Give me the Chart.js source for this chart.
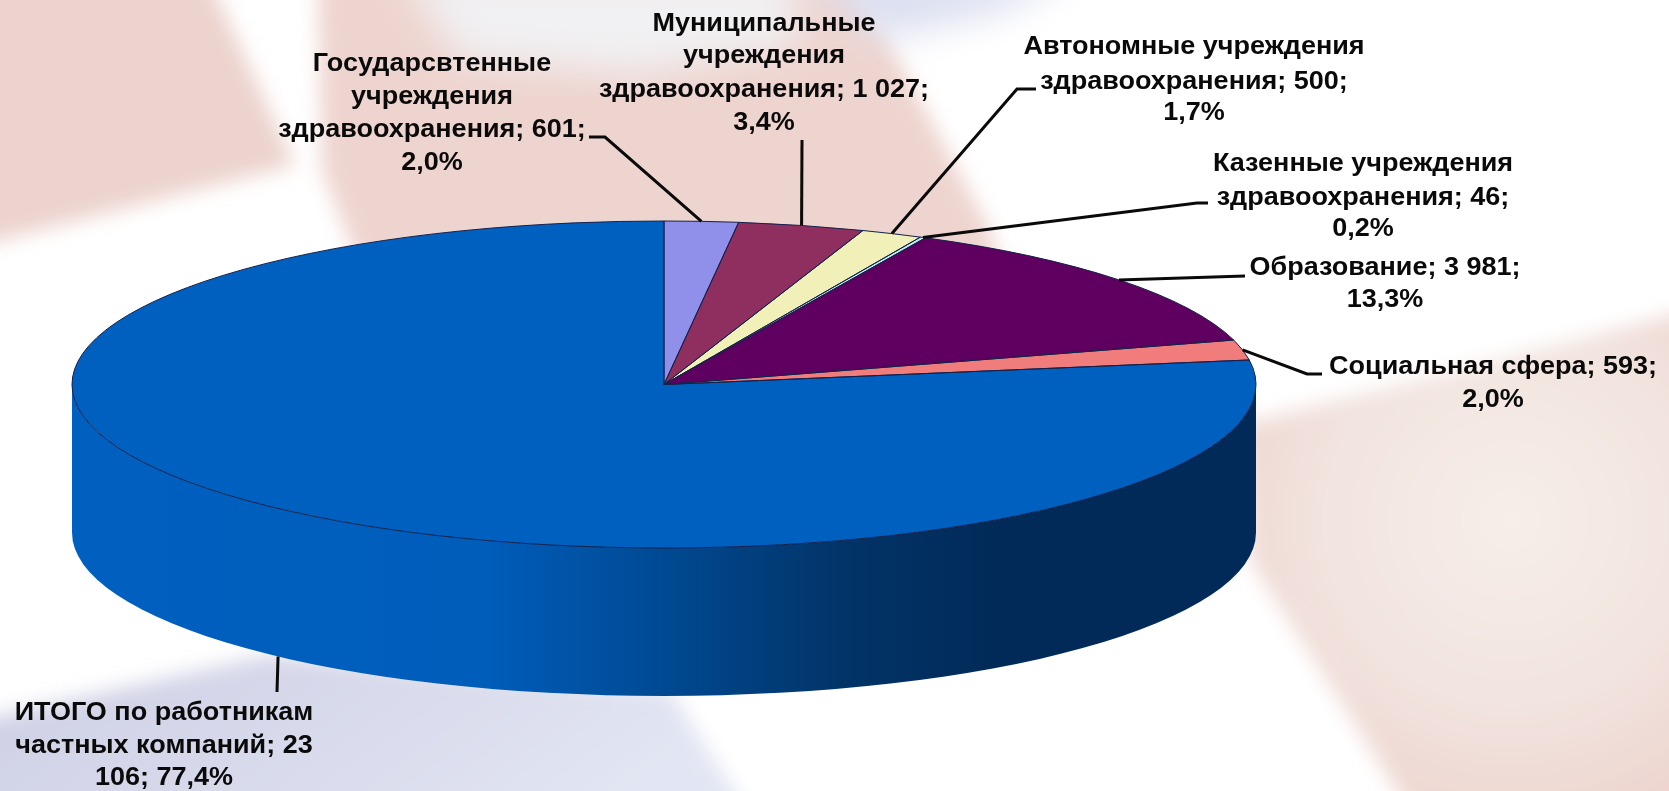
<!DOCTYPE html>
<html lang="ru">
<head>
    <meta charset="UTF-8">
    <title>Работники частных компаний</title>
    <script src="https://cdn.jsdelivr.net/npm/chart.js"></script>
    <style>
        html, body { margin: 0; padding: 0; background: #fff; overflow: hidden; }
        #wrap { position: relative; width: 1669px; height: 791px; }
        #bg, #pieChart { position: absolute; left: 0; top: 0; }
        /* исходник - растянутая картинка, края слегка мягкие */
        #pieChart { filter: blur(0.6px); }
    </style>
</head>
<body>
<div id="wrap">
    <!-- размытые пятна фона -->
    <svg id="bg" width="1669" height="791" xmlns="http://www.w3.org/2000/svg">
        <defs>
            <filter id="soft" x="-20%" y="-20%" width="140%" height="140%"><feGaussianBlur stdDeviation="10"/></filter>
            <filter id="softer" x="-20%" y="-20%" width="140%" height="140%"><feGaussianBlur stdDeviation="18"/></filter>
            <linearGradient id="lav" x1="0" y1="0" x2="1" y2="0.3">
                <stop offset="0" stop-color="#cdcee3"/><stop offset="1" stop-color="#e2e5f3"/>
            </linearGradient>
            <radialGradient id="pinkRight" gradientUnits="userSpaceOnUse" cx="1510" cy="520" r="330">
                <stop offset="0" stop-color="#f6eee9"/><stop offset="0.55" stop-color="#f2e4df"/><stop offset="1" stop-color="#edd3cd"/>
            </radialGradient>
        </defs>
        <g filter="url(#soft)">
            <polygon points="-30,-30 205,-30 295,165 -30,248" fill="#ecd3ce"/>
            <polygon points="318,-30 850,-30 990,230 1040,420 420,420 322,170" fill="#eed4cf"/>
            <polygon points="1240,425 1700,308 1700,820 1416,820 1250,560" fill="url(#pinkRight)"/>
            <polygon points="-30,722 270,655 670,690 752,820 -30,820" fill="url(#lav)"/>
        </g>
        <g filter="url(#softer)">
            <polygon points="400,-30 790,-30 800,45 640,75 460,60" fill="#f1f0f2"/>
            <polygon points="800,-30 1080,-30 1000,12 880,40" fill="#dcdff0"/>
        </g>
    </svg>
    <canvas id="pieChart" width="1669" height="791"></canvas>
</div>

<script>
    // Данные диаграммы
    const categories = [
        'Государсвтенные учреждения здравоохранения',
        'Муниципальные учреждения здравоохранения',
        'Автономные учреждения здравоохранения',
        'Казенные учреждения здравоохранения',
        'Образование',
        'Социальная сфера',
        'ИТОГО по работникам частных компаний'
    ];
    const seriesValues = [601, 1027, 500, 46, 3981, 593, 23106];
    const sliceColors = ['#9090ea', '#8f2f60', '#f0f0b8', '#bfeeee', '#5f0060', '#f07c7c', '#0060c0'];

    // Подписи с переносами как на исходной картинке
    const labelLines = [
        ['Государсвтенные', 'учреждения', 'здравоохранения; 601;', '2,0%'],
        ['Муниципальные', 'учреждения', 'здравоохранения; 1 027;', '3,4%'],
        ['Автономные учреждения', 'здравоохранения; 500;', '1,7%'],
        ['Казенные учреждения', 'здравоохранения; 46;', '0,2%'],
        ['Образование; 3 981;', '13,3%'],
        ['Социальная сфера; 593;', '2,0%'],
        ['ИТОГО по работникам', 'частных компаний; 23', '106; 77,4%']
    ];
    const labelCenterX = [432, 764, 1194, 1363, 1385, 1493, 164];
    const labelLineY = [
        [64, 97, 130, 163],
        [24, 56, 90, 123],
        [47, 82, 113],
        [164, 198, 229],
        [268, 300],
        [367, 400],
        [713, 746, 778]
    ];
    // Изломы выносных линий, от пирога к подписи
    const leaderPoints = [
        [[605, 137], [589, 137]],
        [[802, 140]],
        [[1017, 89], [1036, 89]],
        [[1197, 203], [1208, 203]],
        [[1245, 276]],
        [[1307, 374], [1322, 374]],
        [[277, 692]]
    ];

    // Геометрия наклонённого пирога
    const pieX = 664, pieY = 384.5, pieRx = 592, pieRy = 163.5, pieDepth = 148;
    // Текст в оригинале растянут по ширине
    const labelStretch = 1.08;

    function flatten(ctx, arc) {
        ctx.translate(pieX, pieY);
        ctx.scale(pieRx / arc.outerRadius, pieRy / arc.outerRadius);
        ctx.translate(-arc.x, -arc.y);
    }

    const pie3d = {
        id: 'pie3d',
        // Боковая стенка под видимой передней половиной
        beforeDatasetsDraw(chart) {
            const ctx = chart.ctx;
            const arcs = chart.getDatasetMeta(0).data;
            const wall = ctx.createLinearGradient(pieX - pieRx, 0, pieX + pieRx, 0);
            wall.addColorStop(0, '#0060c0');
            wall.addColorStop(0.35, '#005dba');
            wall.addColorStop(0.48, '#004c98');
            wall.addColorStop(0.65, '#023468');
            wall.addColorStop(0.78, '#012a58');
            wall.addColorStop(1, '#012a58');
            arcs.forEach(arc => {
                const a0 = Math.max(arc.startAngle, 0);
                const a1 = Math.min(arc.endAngle, Math.PI);
                if (a1 <= a0) return;
                ctx.beginPath();
                ctx.ellipse(pieX, pieY, pieRx, pieRy, 0, a0, a1);
                ctx.ellipse(pieX, pieY + pieDepth, pieRx, pieRy, 0, a1, a0, true);
                ctx.closePath();
                ctx.fillStyle = wall;
                ctx.fill();
            });
            // Верх сжимаем только на время отрисовки секторов
            ctx.save();
            flatten(ctx, arcs[0]);
        },
        afterDatasetsDraw(chart) {
            const ctx = chart.ctx;
            const arcs = chart.getDatasetMeta(0).data;
            ctx.restore();
            // Контур секторов ровной толщины
            arcs.forEach(arc => {
                ctx.beginPath();
                ctx.moveTo(pieX, pieY);
                ctx.ellipse(pieX, pieY, pieRx, pieRy, 0, arc.startAngle, arc.endAngle);
                ctx.closePath();
                ctx.strokeStyle = '#14204a';
                ctx.lineWidth = 1;
                ctx.stroke();
            });
        },
        afterDraw(chart) {
            const ctx = chart.ctx;
            const arcs = chart.getDatasetMeta(0).data;
            // Выносные линии начинаются в середине сектора
            arcs.forEach((arc, i) => {
                const mid = (arc.startAngle + arc.endAngle) / 2;
                const front = Math.sin(mid) > 0;
                ctx.beginPath();
                ctx.moveTo(pieX + pieRx * Math.cos(mid),
                           pieY + pieRy * Math.sin(mid) + (front ? pieDepth : 0));
                leaderPoints[i].forEach(p => ctx.lineTo(p[0], p[1]));
                ctx.strokeStyle = '#0a0a0a';
                ctx.lineWidth = 3;
                ctx.stroke();
            });
            ctx.fillStyle = '#0a0a0a';
            ctx.font = 'bold 25px "Liberation Sans", Arial, sans-serif';
            ctx.textAlign = 'center';
            ctx.textBaseline = 'middle';
            labelLines.forEach((lines, i) => {
                lines.forEach((line, j) => {
                    ctx.save();
                    ctx.translate(labelCenterX[i], labelLineY[i][j]);
                    ctx.scale(labelStretch, 1);
                    ctx.fillText(line, 0, 0);
                    ctx.restore();
                });
            });
        }
    };

    new Chart(document.getElementById('pieChart'), {
        type: 'pie',
        data: {
            labels: categories,
            datasets: [{
                data: seriesValues,
                backgroundColor: sliceColors,
                borderWidth: 0
            }]
        },
        options: {
            responsive: false,
            animation: false,
            events: [],
            layout: { padding: 0 },
            plugins: { legend: { display: false }, tooltip: { enabled: false } }
        },
        plugins: [pie3d]
    });
</script>
</body>
</html>
